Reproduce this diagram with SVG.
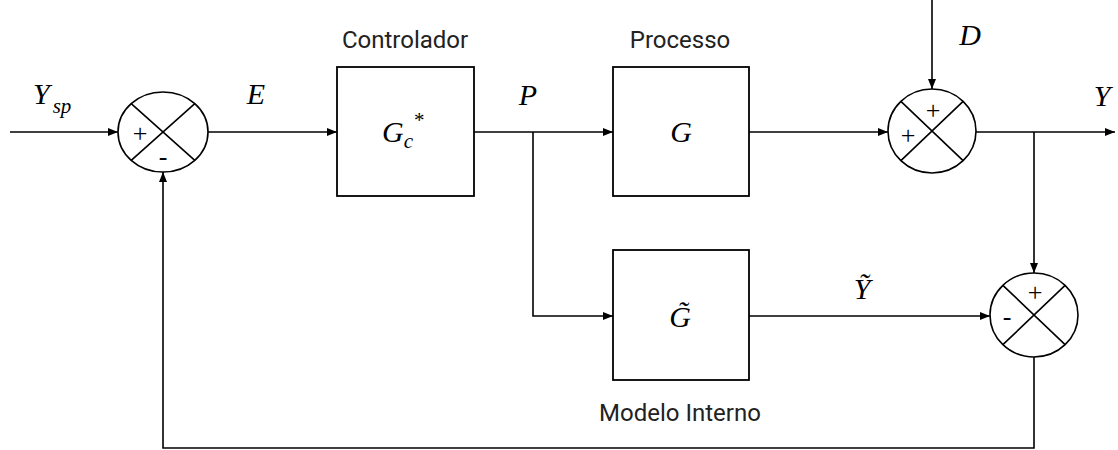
<svg xmlns="http://www.w3.org/2000/svg" width="1118" height="450" viewBox="0 0 1118 450">
<style>
.ln{fill:none;stroke:#000;stroke-width:1.6}
.box{fill:#fff;stroke:#000;stroke-width:1.8}
.sum{fill:#fff;stroke:#000;stroke-width:1.6}
.m{font-family:"Liberation Serif",serif;font-style:italic;font-size:30px;fill:#000}
.ms{font-family:"Liberation Serif",serif;font-style:italic;font-size:21px;fill:#000}
.t{font-family:Roboto,"Liberation Sans",sans-serif;font-size:24px;fill:#222}
.sg{font-family:"Liberation Serif",serif;font-size:26px;fill:#000;text-anchor:middle}
</style>
<defs>
<marker id="ar" viewBox="0 0 10 8" refX="10" refY="4" markerWidth="10" markerHeight="8" markerUnits="userSpaceOnUse" orient="auto">
<path d="M0,0 L10,4 L0,8 Z" fill="#000"/>
</marker>
</defs>
<g id="connectors">
<path class="ln" d="M10,132 H118" marker-end="url(#ar)"/>
<path class="ln" d="M208,132 H337" marker-end="url(#ar)"/>
<path class="ln" d="M474,132 H613" marker-end="url(#ar)"/>
<path class="ln" d="M533,132 V316 H613" marker-end="url(#ar)"/>
<path class="ln" d="M749,132 H888" marker-end="url(#ar)"/>
<path class="ln" d="M932,0 V89" marker-end="url(#ar)"/>
<path class="ln" d="M976,132 H1115" marker-end="url(#ar)"/>
<path class="ln" d="M1034,132 V273" marker-end="url(#ar)"/>
<path class="ln" d="M749,316 H990" marker-end="url(#ar)"/>
<path class="ln" d="M1034,357 V448 H163 V172" marker-end="url(#ar)"/>
</g>
<g id="sum1">
<ellipse class="sum" cx="163" cy="132" rx="45" ry="40"/>
<path class="ln" d="M131.2,103.7 L194.8,160.3 M131.2,160.3 L194.8,103.7"/>
<text class="sg" x="140" y="142">+</text>
<text class="sg" x="163" y="165">-</text>
</g>
<g id="controlador">
<rect class="box" x="337" y="67" width="137" height="129"/>
<text class="t" x="405" y="48" text-anchor="middle">Controlador</text>
<text class="m" x="382" y="142">G<tspan class="ms" dy="6">c</tspan><tspan class="ms" dx="0" dy="-21">*</tspan></text>
</g>
<g id="processo">
<rect class="box" x="613" y="67" width="136" height="129"/>
<text class="t" x="680" y="48" text-anchor="middle">Processo</text>
<text class="m" x="681" y="142" text-anchor="middle">G</text>
</g>
<g id="modelo">
<rect class="box" x="613" y="250" width="136" height="130"/>
<text class="t" x="680" y="421" text-anchor="middle">Modelo Interno</text>
<text class="m" x="680" y="327" text-anchor="middle">G&#x303;</text>
</g>
<g id="sum2">
<ellipse class="sum" cx="932" cy="131" rx="44" ry="42"/>
<path class="ln" d="M900.9,101.3 L963.1,160.7 M900.9,160.7 L963.1,101.3"/>
<text class="sg" x="933" y="119">+</text>
<text class="sg" x="908" y="144">+</text>
</g>
<g id="sum3">
<ellipse class="sum" cx="1034" cy="315" rx="44" ry="42"/>
<path class="ln" d="M1002.9,285.3 L1065.1,344.7 M1002.9,344.7 L1065.1,285.3"/>
<text class="sg" x="1035" y="301">+</text>
<text class="sg" x="1007" y="325">-</text>
</g>
<g id="labels">
<text class="m" x="33" y="104">Y<tspan class="ms" dx="3" dy="9">sp</tspan></text>
<text class="m" x="256" y="104" text-anchor="middle">E</text>
<text class="m" x="528" y="105" text-anchor="middle">P</text>
<text class="m" x="970" y="45" text-anchor="middle">D</text>
<text class="m" x="1102" y="106" text-anchor="middle">Y</text>
<text class="m" x="862" y="299" text-anchor="middle">Y&#x303;</text>
</g>
</svg>
